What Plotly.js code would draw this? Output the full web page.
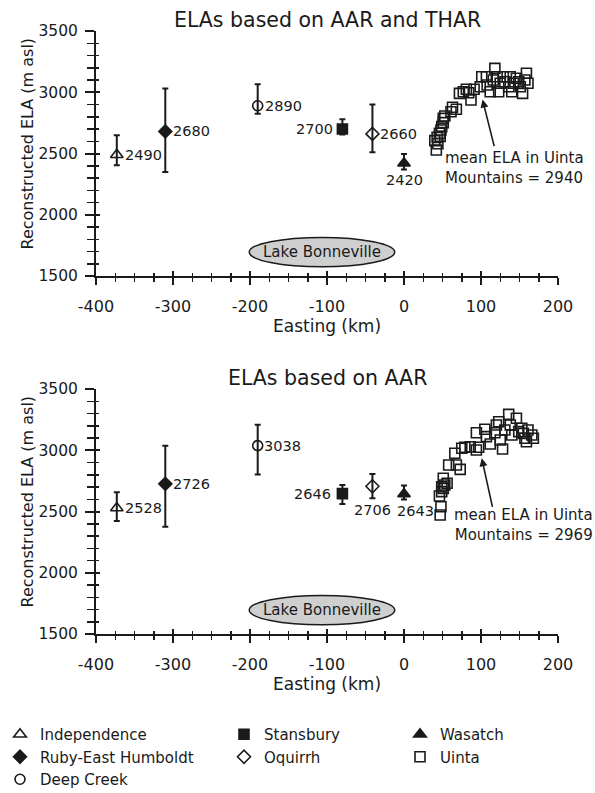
<!DOCTYPE html>
<html>
<head>
<meta charset="utf-8">
<script src="https://cdn.plot.ly/plotly-3.0.1.min.js"></script>
<style>html,body{margin:0;padding:0;background:#fff;}#chart{width:595px;height:793px;}</style>
</head>
<body>
<div id="chart"></div>
<script>
// ---------- data ----------
const sites = ['Independence', 'Ruby-East Humboldt', 'Deep Creek', 'Stansbury', 'Oquirrh', 'Wasatch'];
const siteEasting = [-373, -310, -190, -80, -41, 0];

// ELAs based on AAR and THAR
const elaAarThar = [2490, 2680, 2890, 2700, 2660, 2420];
const errUpAarThar = [160, 350, 175, 80, 240, 75];
const errDownAarThar = [85, 330, 65, 45, 150, 50];

// ELAs based on AAR
const elaAar = [2528, 2726, 3038, 2646, 2706, 2643];
const errUpAar = [130, 310, 170, 70, 100, 70];
const errDownAar = [105, 350, 235, 85, 98, 45];

// Uinta cirques
const uintaEastingAarThar = [42, 40, 43, 46, 48, 49, 51, 51, 53, 61, 63, 68, 72, 77, 81, 84, 87, 91, 99, 101, 107, 108, 112, 116, 118, 121, 123, 125, 129, 131, 136, 138, 140, 142, 146, 149, 151, 154, 157, 159, 161, 44, 47];
const uintaElaAarThar = [2529, 2605, 2632, 2665, 2692, 2719, 2752, 2787, 2806, 2841, 2877, 2861, 2991, 3004, 3024, 2996, 2937, 3024, 3045, 3127, 3127, 3059, 3004, 3100, 3195, 3127, 3004, 3073, 3127, 3086, 3045, 3127, 3004, 3073, 3114, 3086, 3045, 2991, 3100, 3155, 3073, 2580, 2640];
const uintaEastingAar = [47, 48, 46, 49, 51, 53, 56, 51, 58, 68, 73, 66, 75, 79, 86, 94, 97, 94, 105, 107, 112, 118, 120, 123, 125, 128, 131, 136, 138, 140, 146, 149, 153, 155, 157, 159, 161, 166, 168, 49];
const uintaElaAar = [2471, 2539, 2627, 2662, 2689, 2716, 2730, 2771, 2880, 2880, 2844, 2975, 3016, 3024, 3029, 3002, 3024, 3143, 3171, 3111, 3051, 3143, 3206, 3233, 3084, 3010, 3165, 3293, 3206, 3125, 3261, 3152, 3179, 3138, 3098, 3070, 3165, 3125, 3098, 2702];

const uintaMean = [2940, 2969];
const uintaArrowTip = [[102, 2940], [101, 2934]];
const uintaNoteAnchor = [[51, 2555], [62, 2562]];

// Lake Bonneville outline (easting km, ELA m)
const lakeEasting = [-201, -12];
const lakeEla = [1575, 1815];

// axes
const xRange = [-400, 200];
const yRange = [1500, 3500];
const xTickVals = [-400, -300, -200, -100, 0, 100, 200];
const xTickText = ['-400', '-300', '-200', '-100', '0', '100', '200'];
const yTickVals = [1500, 2000, 2500, 3000, 3500];
const yTickText = ['1500', '2000', '2500', '3000', '3500'];
const chartTitles = ['ELAs based on AAR and THAR', 'ELAs based on AAR'];

// ---------- styling ----------
const FONT = 'DejaVu Sans, Liberation Sans, Arial, sans-serif';
const INK = '#1a1a1a';
const symbols = ['triangle-up-open', 'diamond', 'circle-open', 'square', 'diamond-open', 'triangle-up'];
const symSize = [11, 10, 10, 10, 10, 11];
const legendOf = ['legend', 'legend', 'legend', 'legend2', 'legend2', 'legend3'];
const labelStyle = [
  [{xa: 'left', ya: 'middle', dx: 6, dy: 0}, {xa: 'left', ya: 'middle', dx: 6, dy: 0},
   {xa: 'left', ya: 'middle', dx: 5, dy: 0}, {xa: 'right', ya: 'middle', dx: -7, dy: 0},
   {xa: 'left', ya: 'middle', dx: 6, dy: 0}, {xa: 'center', ya: 'top', dx: 0, dy: -7}],
  [{xa: 'left', ya: 'middle', dx: 6, dy: 0}, {xa: 'left', ya: 'middle', dx: 6, dy: 0},
   {xa: 'left', ya: 'middle', dx: 4, dy: 0}, {xa: 'right', ya: 'middle', dx: -9, dy: 0},
   {xa: 'center', ya: 'top', dx: 0, dy: -14}, {xa: 'center', ya: 'top', dx: 11, dy: -7}]
];

const traces = [];
const annotations = [];
const shapes = [];

function addPanel(k, ela, up, down, ux, uy, xa, ya, xo, yo) {
  for (let i = 0; i < sites.length; i++) {
    traces.push({
      type: 'scatter', mode: 'markers', name: sites[i],
      x: [siteEasting[i]], y: [ela[i]], xaxis: xa, yaxis: ya,
      legend: legendOf[i], showlegend: k === 0,
      marker: {symbol: symbols[i], size: symSize[i], color: INK, line: {color: INK, width: 1.6}},
      error_y: {type: 'data', symmetric: false, array: [up[i]], arrayminus: [down[i]],
                color: INK, thickness: 2, width: 3},
      cliponaxis: false
    });
    const s = labelStyle[k][i];
    annotations.push({xref: xa, yref: ya, x: siteEasting[i], y: ela[i], text: String(ela[i]),
                      showarrow: false, xanchor: s.xa, yanchor: s.ya, xshift: s.dx, yshift: s.dy,
                      font: {family: FONT, size: 14.5, color: INK}});
  }
  // Uinta points on the overlay axes (same ranges) so the inner tick marks get drawn
  traces.push({
    type: 'scatter', mode: 'markers', name: 'Uinta', x: ux, y: uy, xaxis: xo, yaxis: yo,
    legend: 'legend3', showlegend: k === 0,
    marker: {symbol: 'square-open', size: 10, color: INK, line: {color: INK, width: 1.6}}
  });
}
addPanel(0, elaAarThar, errUpAarThar, errDownAarThar, uintaEastingAarThar, uintaElaAarThar, 'x', 'y', 'x3', 'y3');
addPanel(1, elaAar, errUpAar, errDownAar, uintaEastingAar, uintaElaAar, 'x2', 'y2', 'x4', 'y4');

const T = 31, B = 634, H = B - T;
const topDom = [(B - 276) / H, 1];
const botDom = [0, (B - 389) / H];

function xAxis(anchor, inner, overlay) {
  const a = {
    range: xRange, tickmode: 'array', tickvals: xTickVals, ticktext: xTickText,
    domain: [0, 1], anchor: anchor, showgrid: false, zeroline: false, fixedrange: true,
    ticks: inner ? 'inside' : 'outside', ticklen: inner ? 5 : 7, tickwidth: 2, tickcolor: INK,
    minor: {tick0: -400, dtick: 25, ticks: inner ? 'inside' : 'outside', ticklen: inner ? 3 : 4,
            tickwidth: 1.5, tickcolor: INK, showgrid: false},
    showline: !inner, linewidth: 2, linecolor: INK,
    showticklabels: !inner, ticklabelstandoff: 8,
    tickfont: {family: FONT, size: 16, color: INK}
  };
  if (overlay) a.overlaying = overlay;
  return a;
}
function yAxis(dom, anchor, inner, overlay) {
  const a = {
    range: yRange, tickmode: 'array', tickvals: yTickVals, ticktext: yTickText,
    domain: dom, anchor: anchor, showgrid: false, zeroline: false, fixedrange: true,
    ticks: inner ? 'inside' : 'outside', ticklen: inner ? 4 : 9, tickwidth: 2, tickcolor: INK,
    minor: {tick0: 1500, dtick: 100, ticks: inner ? 'inside' : 'outside', ticklen: inner ? 3 : 7,
            tickwidth: 1.5, tickcolor: INK, showgrid: false},
    showline: !inner, linewidth: 2, linecolor: INK,
    showticklabels: !inner, ticklabelstandoff: 4,
    tickfont: {family: FONT, size: 15.5, color: INK}
  };
  if (overlay) a.overlaying = overlay;
  return a;
}

const panels = [{x: 'x', y: 'y', dom: topDom}, {x: 'x2', y: 'y2', dom: botDom}];
panels.forEach((p, k) => {
  shapes.push({type: 'circle', xref: p.x, yref: p.y, x0: lakeEasting[0], x1: lakeEasting[1],
               y0: lakeEla[0], y1: lakeEla[1], fillcolor: '#cfcfcf', line: {color: INK, width: 1.5}, layer: 'below'});
  annotations.push({xref: p.x, yref: p.y, x: (lakeEasting[0] + lakeEasting[1]) / 2, y: (lakeEla[0] + lakeEla[1]) / 2,
                    text: 'Lake Bonneville', showarrow: false, font: {family: FONT, size: 15, color: INK}});
  annotations.push({xref: p.x, yref: p.y, x: uintaArrowTip[k][0], y: uintaArrowTip[k][1], text: '',
                    showarrow: true, arrowhead: 2, arrowsize: 1, arrowwidth: 1.6, arrowcolor: INK,
                    ax: k === 0 ? 12 : 11, ay: k === 0 ? 48 : 50, standoff: 0});
  annotations.push({xref: p.x, yref: p.y, x: uintaNoteAnchor[k][0], y: uintaNoteAnchor[k][1],
                    xanchor: 'left', yanchor: 'top', align: k === 0 ? 'left' : 'right', showarrow: false,
                    text: 'mean ELA in Uinta<br>Mountains = ' + uintaMean[k],
                    font: {family: FONT, size: 15, color: INK}});
  const domTopPx = B - p.dom[1] * H;
  const domBotPx = B - p.dom[0] * H;
  annotations.push({xref: 'paper', yref: 'paper', x: 0.5, y: (B - (domTopPx + 3)) / H,
                    xanchor: 'center', yanchor: 'bottom', showarrow: false, text: chartTitles[k],
                    font: {family: FONT, size: 20.5, color: INK}});
  annotations.push({xref: 'paper', yref: 'paper', x: 0.5, y: (B - (domBotPx + 50)) / H,
                    xanchor: 'center', yanchor: 'middle', showarrow: false, text: 'Easting (km)',
                    font: {family: FONT, size: 17, color: INK}});
  annotations.push({xref: 'paper', yref: 'paper', x: (27 - 96) / 462, y: (B - (domTopPx + 112.5)) / H,
                    xanchor: 'center', yanchor: 'middle', showarrow: false, textangle: -90,
                    text: 'Reconstructed ELA (m asl)', font: {family: FONT, size: 16, color: INK}});
});

const legendBase = {orientation: 'v', xanchor: 'left', yanchor: 'top', bgcolor: 'rgba(0,0,0,0)',
                    font: {family: FONT, size: 15, color: INK}, itemwidth: 30, tracegroupgap: 0,
                    y: (B - 718) / H};
const layout = {
  width: 595, height: 793,
  margin: {l: 96, r: 37, t: T, b: 793 - B, autoexpand: false},
  paper_bgcolor: '#fff', plot_bgcolor: 'rgba(0,0,0,0)',
  font: {family: FONT, color: INK},
  showlegend: true,
  xaxis: xAxis('y', false),
  yaxis: yAxis(topDom, 'x', false),
  xaxis2: xAxis('y2', false),
  yaxis2: yAxis(botDom, 'x2', false),
  xaxis3: xAxis('y3', true, 'x'),
  yaxis3: yAxis(topDom, 'x3', true, 'y'),
  xaxis4: xAxis('y4', true, 'x2'),
  yaxis4: yAxis(botDom, 'x4', true, 'y2'),
  legend: Object.assign({}, legendBase, {x: (0 - 96) / 462}),
  legend2: Object.assign({}, legendBase, {x: (224 - 96) / 462}),
  legend3: Object.assign({}, legendBase, {x: (400 - 96) / 462}),
  shapes: shapes,
  annotations: annotations
};

Plotly.newPlot('chart', traces, layout, {staticPlot: true, displayModeBar: false});
</script>
</body>
</html>
